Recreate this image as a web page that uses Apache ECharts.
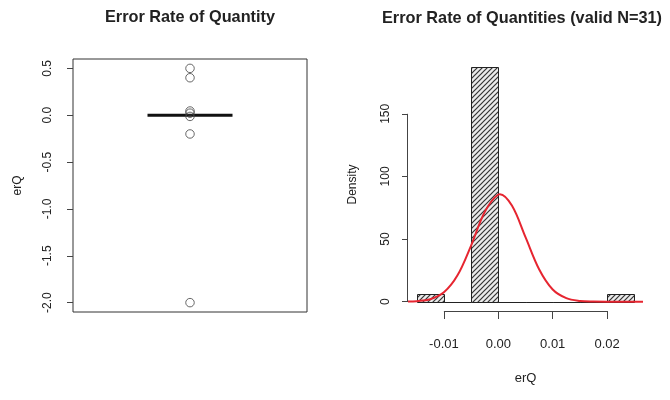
<!DOCTYPE html>
<html><head><meta charset="utf-8">
<script src="https://cdn.jsdelivr.net/npm/echarts@6/dist/echarts.min.js"></script>
<style>html,body{margin:0;padding:0;background:#fff}#c{width:670px;height:400px}</style>
</head><body><div id="c"></div><script>
// Boxplot panel: five-number summary and the outlying points of erQ
const boxStats = [0, 0, 0, 0, 0];
const boxOutliers = [0.5, 0.4, 0.045, 0.022, -0.0125, -0.2, -2.0];
const boxTicks = [-2.0, -1.5, -1.0, -0.5, 0.0, 0.5];

// Histogram panel: bin edges and densities of the 31 valid values
const binEdges = [-0.015, -0.01, -0.005, 0, 0.005, 0.01, 0.015, 0.02, 0.025];
const binDensity = [6.45, 0, 187.1, 0, 0, 0, 0, 6.45];
const histXTicks = [-0.01, 0, 0.01, 0.02];
const histYTicks = [0, 50, 100, 150];

// Fitted normal density curve
const curveX = [-0.0166, -0.015, -0.0125, -0.01, -0.0075, -0.005, -0.0025, 0, 0.0003, 0.0025, 0.005, 0.0075, 0.01, 0.0125, 0.015, 0.0175, 0.02, 0.0225, 0.025, 0.0266];
const curveY = [0.1, 0.4, 1.9, 7.4, 21, 44.8, 71.6, 85.6, 85.8, 76.7, 51.5, 25.9, 9.7, 2.8, 0.6, 0.1, 0, 0, 0, 0];

// Axis limits (range padded by 4% on each side)
const boxYMin = -2.1, boxYMax = 0.6;
const histXMin = -0.0166, histXMax = 0.0266;
const histYMin = -7.48, histYMax = 194.6;

const FONT = '"Liberation Sans", Arial, sans-serif';
const INK = '#222';

// Diagonal hatch fill for the histogram bars
function hatchPattern() {
  const s = 5;
  const cv = document.createElement('canvas');
  cv.width = s; cv.height = s;
  const g = cv.getContext('2d');
  g.fillStyle = '#ebebeb';
  g.fillRect(0, 0, s, s);
  g.strokeStyle = '#333';
  g.lineWidth = 1.2;
  g.beginPath();
  g.moveTo(-1, s + 1); g.lineTo(s + 1, -1);
  g.moveTo(-1, 1); g.lineTo(1, -1);
  g.moveTo(s - 1, s + 1); g.lineTo(s + 1, s - 1);
  g.stroke();
  return { image: cv, repeat: 'repeat' };
}
const hatch = hatchPattern();

const bins = binDensity.map((d, i) => [binEdges[i], binEdges[i + 1], d]);
const curve = curveX.map((x, i) => [x, curveY[i]]);

const yTickLabel = { fontFamily: FONT, fontSize: 12, color: INK };
const xTickLabel = { fontFamily: FONT, fontSize: 13, color: INK };
const titleStyle = { fontFamily: FONT, fontSize: 16.3, fontWeight: 'bold', color: INK };

const chart = echarts.init(document.getElementById('c'), null, { renderer: 'canvas' });
chart.setOption({
  animation: false,
  backgroundColor: '#fff',
  title: [
    { text: 'Error Rate of Quantity', left: 185, top: 5, textAlign: 'center', textStyle: titleStyle },
    { text: 'Error Rate of Quantities (valid N=31)', left: 517, top: 6, textAlign: 'center', textStyle: titleStyle }
  ],
  grid: [
    { left: 73, top: 59, width: 234, height: 253, show: true, borderColor: '#333', borderWidth: 1, backgroundColor: 'transparent' },
    { left: 408, top: 58, width: 235, height: 253 }
  ],
  xAxis: [
    { gridIndex: 0, type: 'category', data: ['erQ'], show: false },
    { gridIndex: 1, type: 'value', min: histXMin, max: histXMax,
      name: 'erQ', nameLocation: 'middle', nameGap: 61,
      nameTextStyle: { fontFamily: FONT, fontSize: 13, color: INK },
      axisLine: { show: false, onZero: false }, splitLine: { show: false },
      axisTick: { show: true, inside: false, length: 8, lineStyle: { color: '#444' }, customValues: histXTicks },
      axisLabel: { ...xTickLabel, margin: 27, customValues: histXTicks, formatter: v => v.toFixed(2) } }
  ],
  yAxis: [
    { gridIndex: 0, type: 'value', min: boxYMin, max: boxYMax,
      name: 'erQ', nameLocation: 'middle', nameGap: 49,
      nameTextStyle: { fontFamily: FONT, fontSize: 12, color: INK },
      axisLine: { show: false, onZero: false }, splitLine: { show: false },
      axisTick: { show: true, length: 6, lineStyle: { color: '#444' }, customValues: boxTicks },
      axisLabel: { ...yTickLabel, rotate: 90, margin: 19, customValues: boxTicks, formatter: v => v.toFixed(1) } },
    { gridIndex: 1, type: 'value', min: histYMin, max: histYMax,
      name: 'Density', nameLocation: 'middle', nameGap: 49,
      nameTextStyle: { fontFamily: FONT, fontSize: 12, color: INK },
      axisLine: { show: false, onZero: false }, splitLine: { show: false },
      axisTick: { show: true, length: 6, lineStyle: { color: '#444' }, customValues: histYTicks },
      axisLabel: { ...yTickLabel, rotate: 90, margin: 16, customValues: histYTicks, formatter: v => String(v) } }
  ],
  series: [
    { type: 'boxplot', xAxisIndex: 0, yAxisIndex: 0, data: [boxStats], boxWidth: [85, 85],
      itemStyle: { color: '#fff', borderColor: '#111', borderWidth: 3 } },
    { type: 'scatter', xAxisIndex: 0, yAxisIndex: 0, symbol: 'circle', symbolSize: 8.5,
      data: boxOutliers.map(v => [0, v]),
      itemStyle: { color: 'rgba(0,0,0,0)', borderColor: '#444', borderWidth: 1 } },
    { type: 'custom', xAxisIndex: 1, yAxisIndex: 1, data: bins, encode: { x: [0, 1], y: 2 },
      renderItem: (params, api) => {
        const p0 = api.coord([api.value(0), api.value(2)]);
        const p1 = api.coord([api.value(1), 0]);
        return { type: 'rect',
          shape: { x: Math.round(p0[0]) + 0.5, y: Math.round(p0[1]) + 0.5,
                   width: Math.round(p1[0]) - Math.round(p0[0]), height: Math.round(p1[1]) - Math.round(p0[1]) },
          style: { fill: hatch, stroke: '#222', lineWidth: 1 } };
      } },
    { type: 'line', xAxisIndex: 1, yAxisIndex: 1, data: curve, smooth: 0.35, showSymbol: false,
      lineStyle: { color: '#e62530', width: 2 } },
    // Axis lines spanning the first to last tick
    { type: 'custom', xAxisIndex: 1, yAxisIndex: 1, data: [[0, 0]], clip: false, silent: true,
      renderItem: (params, api) => {
        const ya = api.coord([histXMin, histYTicks[0]]);
        const yb = api.coord([histXMin, histYTicks[histYTicks.length - 1]]);
        const xa = api.coord([histXTicks[0], histYMin]);
        const xb = api.coord([histXTicks[histXTicks.length - 1], histYMin]);
        const ly = Math.round(xa[1]) + 0.5;
        const lx = Math.round(ya[0]) - 0.5;
        return { type: 'group', children: [
          { type: 'line', shape: { x1: lx, y1: ya[1], x2: lx, y2: yb[1] }, style: { stroke: '#444', lineWidth: 1 } },
          { type: 'line', shape: { x1: xa[0], y1: ly, x2: xb[0], y2: ly }, style: { stroke: '#444', lineWidth: 1 } }
        ] };
      } }
  ]
});
</script></body></html>
